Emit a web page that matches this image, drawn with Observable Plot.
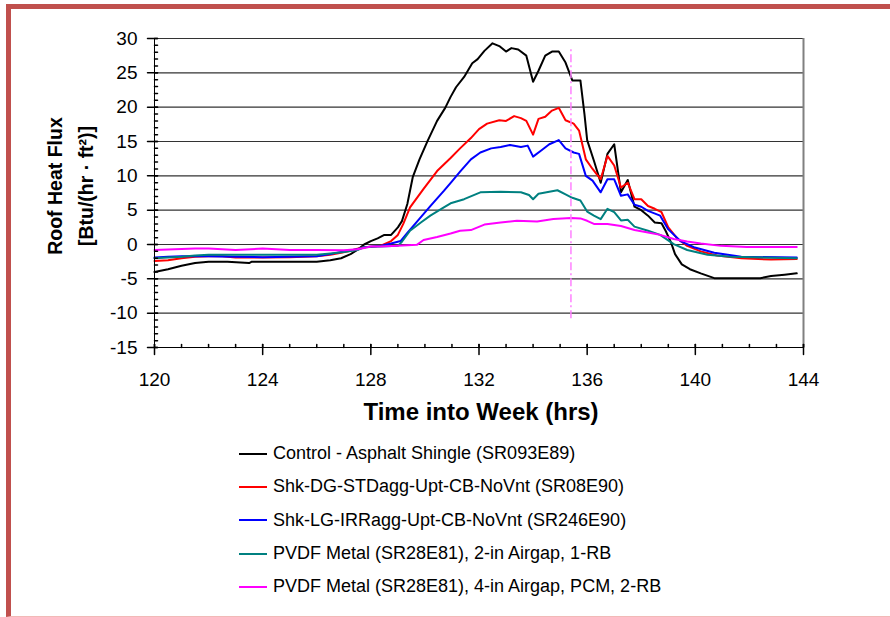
<!DOCTYPE html>
<html>
<head>
<meta charset="utf-8">
<script src="https://cdn.jsdelivr.net/npm/d3@7"></script>
<script src="https://cdn.jsdelivr.net/npm/@observablehq/plot@0.6"></script>
<style>
  body { margin: 0; background: #fff; font-family: "Liberation Sans", Arial, sans-serif; }
  #frame { position: absolute; left: 6px; top: 4px; width: 900px; height: 607px;
           border-left: 5px solid #c0504d; border-top: 5px solid #c0504d; border-bottom: 1px solid #f2b9b7; }
  #chart { position: absolute; left: 0; top: 0; }
  #legend { position: absolute; left: 239px; top: 437px; font-size: 18px; color: #000; }
  .row { height: 33.3px; display: flex; align-items: center; white-space: nowrap; }
  .row svg { margin-right: 5px; }
</style>
</head>
<body>
<div id="frame"></div>
<div id="chart"></div>
<div id="legend"></div>
<script>
// Roof heat flux through one day (hours 120–144 of the test week)
const seriesNames = [
  "Control - Asphalt Shingle (SR093E89)",
  "Shk-DG-STDagg-Upt-CB-NoVnt (SR08E90)",
  "Shk-LG-IRRagg-Upt-CB-NoVnt (SR246E90)",
  "PVDF Metal (SR28E81), 2-in Airgap, 1-RB",
  "PVDF Metal (SR28E81), 4-in Airgap, PCM, 2-RB"
];
const seriesColors = ["#000000", "#ff0000", "#0000ff", "#008080", "#ff00ff"];

const controlHours = [120, 120.5, 121, 121.5, 122, 122.7, 123.5, 123.6, 124.5, 125, 125.5, 126, 126.5, 126.9, 127.25, 127.5, 127.75, 128, 128.25, 128.5, 128.75, 129, 129.15, 129.35, 129.55, 129.8, 130.1, 130.45, 130.75, 130.95, 131.15, 131.45, 131.75, 131.95, 132.2, 132.5, 132.75, 133, 133.2, 133.45, 133.75, 134, 134.2, 134.45, 134.7, 134.95, 135.2, 135.45, 135.75, 135.9, 136, 136.25, 136.5, 136.75, 137, 137.25, 137.5, 137.75, 138, 138.25, 138.5, 138.75, 138.9, 139.1, 139.25, 139.5, 139.8, 140.2, 140.7, 141.3, 142.4, 142.8, 143.3, 143.75];
const controlFlux  = [-4.0, -3.6, -3.1, -2.7, -2.5, -2.5, -2.7, -2.5, -2.5, -2.5, -2.5, -2.5, -2.3, -2.0, -1.4, -0.8, 0.0, 0.5, 0.9, 1.4, 1.4, 2.5, 3.4, 5.9, 9.8, 12.4, 15.1, 18.0, 19.9, 21.5, 22.9, 24.4, 26.4, 27.0, 28.2, 29.3, 28.9, 28.1, 28.6, 28.4, 27.5, 23.7, 25.3, 27.5, 28.1, 28.1, 26.5, 23.9, 23.9, 19.0, 15.2, 12.2, 9.0, 13.2, 14.6, 7.6, 9.4, 5.5, 5.0, 4.2, 3.2, 3.1, 2.0, 0.3, -1.4, -2.9, -3.6, -4.2, -4.9, -4.9, -4.9, -4.6, -4.4, -4.2];

const dgHours = [120, 120.5, 121, 121.5, 122, 122.5, 123, 124, 125, 126, 126.5, 126.9, 127.25, 127.5, 127.75, 128.35, 128.75, 129, 129.2, 129.45, 129.95, 130.45, 130.95, 131.3, 131.7, 132, 132.3, 132.75, 133, 133.3, 133.55, 133.75, 134, 134.2, 134.45, 134.7, 134.95, 135.2, 135.5, 135.7, 135.95, 136.2, 136.5, 136.75, 137, 137.25, 137.5, 137.75, 138, 138.25, 138.5, 138.75, 139, 139.35, 139.7, 140.2, 140.8, 141.7, 142.8, 143.75];
const dgFlux  = [-2.4, -2.3, -2.0, -1.8, -1.7, -1.7, -1.9, -1.9, -1.85, -1.7, -1.5, -1.2, -0.9, -0.6, -0.4, -0.2, 0.5, 1.4, 3.0, 5.4, 8.1, 10.7, 12.6, 14.0, 15.5, 16.8, 17.6, 18.1, 18.0, 18.7, 18.4, 18.0, 16.0, 18.3, 18.6, 19.5, 19.9, 18.1, 17.6, 16.6, 12.4, 11.0, 9.5, 12.9, 11.5, 8.3, 9.0, 6.6, 6.6, 5.6, 5.2, 4.7, 2.5, 0.8, -0.2, -1.0, -1.6, -2.0, -2.2, -2.1];

const lgHours = [120, 120.5, 121, 122, 123, 124, 125, 126, 126.5, 127, 127.5, 127.75, 128.35, 128.75, 129.1, 129.35, 129.7, 130.2, 130.7, 131, 131.3, 131.7, 132.05, 132.45, 132.8, 133.15, 133.55, 133.8, 134, 134.3, 134.6, 134.95, 135.2, 135.5, 135.7, 135.95, 136.2, 136.5, 136.75, 137, 137.25, 137.5, 137.75, 138, 138.25, 138.7, 139, 139.45, 139.95, 140.7, 141.7, 143.75];
const lgFlux  = [-1.9, -1.8, -1.7, -1.7, -1.8, -1.85, -1.8, -1.7, -1.4, -1.0, -0.7, -0.4, -0.2, 0.15, 0.5, 1.7, 3.3, 5.6, 7.8, 9.2, 10.6, 12.4, 13.4, 14.0, 14.2, 14.5, 14.2, 14.4, 12.8, 13.7, 14.6, 15.2, 14.0, 13.4, 13.2, 10.0, 9.3, 7.6, 9.5, 9.5, 7.1, 7.3, 5.8, 5.5, 4.9, 4.2, 2.2, 0.5, -0.4, -1.2, -1.8, -1.9];

const metal2Hours = [120, 120.5, 121, 121.5, 122, 124, 126, 126.5, 127, 127.5, 127.75, 128.35, 129, 129.15, 129.45, 129.85, 130.2, 130.7, 130.95, 131.45, 132.05, 132.8, 133.55, 133.85, 134, 134.2, 134.5, 134.9, 135.2, 135.45, 135.75, 136, 136.25, 136.5, 136.75, 137, 137.25, 137.5, 137.75, 138.25, 138.7, 139.2, 139.7, 140.45, 141.3, 143.75];
const metal2Flux  = [-2.0, -1.9, -1.8, -1.6, -1.5, -1.5, -1.5, -1.3, -1.1, -0.8, -0.4, -0.3, -0.2, 0.4, 2.0, 3.2, 4.2, 5.4, 6.0, 6.6, 7.6, 7.7, 7.6, 7.2, 6.6, 7.4, 7.6, 7.9, 7.3, 6.8, 6.4, 4.8, 4.2, 3.7, 5.2, 4.7, 3.5, 3.6, 2.6, 2.0, 1.4, 0.05, -0.8, -1.5, -1.8, -2.0];

const metal4Hours = [120, 121.5, 122, 123, 124, 125, 126, 127, 127.5, 127.75, 128, 128.35, 129, 129.7, 129.95, 130.45, 130.95, 131.3, 131.7, 132.2, 132.8, 133.4, 134.15, 134.75, 135.4, 135.75, 136, 136.25, 136.75, 137.25, 137.75, 138.25, 138.7, 139.2, 139.7, 140.2, 140.95, 141.9, 143.75];
const metal4Flux  = [-0.8, -0.6, -0.6, -0.8, -0.6, -0.8, -0.8, -0.85, -0.7, -0.5, -0.3, -0.3, -0.2, -0.05, 0.65, 1.1, 1.6, 2.0, 2.1, 2.9, 3.2, 3.45, 3.35, 3.7, 3.85, 3.8, 3.45, 3.0, 3.0, 2.7, 2.1, 1.75, 1.4, 0.8, 0.45, 0.15, -0.2, -0.35, -0.35];

// dash-dot reference marker
const markerHour = [135.4];
const markerSpan = [-10.8, 28.8];

const xTicks = [120, 124, 128, 132, 136, 140, 144];
const xMinorTicks = d3.range(120, 145, 1);
const yTicks = [-15, -10, -5, 0, 5, 10, 15, 20, 25, 30];
const yMinorTicks = d3.range(-15, 31, 1);

const seriesHours = [controlHours, dgHours, lgHours, metal2Hours, metal4Hours];
const seriesFlux = [controlFlux, dgFlux, lgFlux, metal2Flux, metal4Flux];
const rows = seriesNames.flatMap((name, s) =>
  seriesHours[s].map((h, i) => ({series: name, hour: h, flux: seriesFlux[s][i]})));

// straight tick segment for vector marks
const tickShape = {draw(context, l) { context.moveTo(0, 0); context.lineTo(0, -l); }};

const chart = Plot.plot({
  width: 890,
  height: 400,
  marginLeft: 154,
  marginRight: 87,
  marginTop: 38,
  marginBottom: 53,
  style: {fontFamily: "'Liberation Sans', Arial, sans-serif", fontSize: "19px", color: "#000", background: "transparent", overflow: "visible"},
  x: {domain: [120, 144]},
  y: {domain: [-15, 30]},
  color: {domain: seriesNames, range: seriesColors},
  marks: [
    Plot.gridY(yTicks, {stroke: "#333", strokeOpacity: 1, strokeWidth: 1.2}),
    Plot.ruleX([144], {stroke: "#808080", strokeWidth: 2}),
    Plot.line(rows, {x: "hour", y: "flux", z: "series", stroke: "series", strokeWidth: 2, strokeLinejoin: "round"}),
    Plot.ruleX(markerHour, {y1: markerSpan[0], y2: markerSpan[1], stroke: "#ff80ff", strokeWidth: 1.5, strokeDasharray: "8,3,2,3"}),
    Plot.ruleX([120], {stroke: "#000", strokeWidth: 1}),
    Plot.ruleY([-15], {stroke: "#000", strokeWidth: 1}),
    // axis tick marks: majors cross the axis, minors sit inside
    Plot.vector(yTicks, {y: d => d, frameAnchor: "left", rotate: 90, length: 10, anchor: "start", dx: -7, shape: tickShape, stroke: "#000"}),
    Plot.vector(yMinorTicks, {y: d => d, frameAnchor: "left", rotate: 90, length: 3, anchor: "start", shape: tickShape, stroke: "#000"}),
    Plot.vector(xTicks, {x: d => d, frameAnchor: "bottom", rotate: 0, length: 10, anchor: "start", dy: 7, shape: tickShape, stroke: "#000"}),
    Plot.vector(xMinorTicks, {x: d => d, frameAnchor: "bottom", rotate: 0, length: 3, anchor: "start", shape: tickShape, stroke: "#000"}),
    Plot.axisY({ticks: yTicks, tickSize: 0, tickPadding: 17, tickFormat: d => String(d), label: null, fontSize: 19}),
    Plot.axisX({ticks: xTicks, tickSize: 0, tickPadding: 25, tickFormat: d => String(d), label: null, fontSize: 19}),
    Plot.text(["Time into Week (hrs)"], {frameAnchor: "bottom", lineAnchor: "middle", textAnchor: "middle", dx: 2, dy: 65, fontWeight: "bold", fontSize: 24}),
    Plot.text(["Roof Heat Flux\n[Btu/(hr · ft²)]"], {frameAnchor: "left", textAnchor: "middle", lineAnchor: "middle", dx: -87, dy: -7, rotate: -90, fontWeight: "bold", fontSize: 19.5, lineHeight: 1.6})
  ]
});
document.getElementById("chart").append(chart);

// legend: swatch line + series label
const legend = d3.select("#legend");
seriesNames.forEach((name, i) => {
  const row = legend.append("div").attr("class", "row");
  const sw = row.append("svg").attr("width", 29).attr("height", 6);
  sw.append("line").attr("x1", 0).attr("x2", 28).attr("y1", 3).attr("y2", 3)
    .attr("stroke", seriesColors[i]).attr("stroke-width", 2);
  row.append("span").text(name);
});
</script>
</body>
</html>
